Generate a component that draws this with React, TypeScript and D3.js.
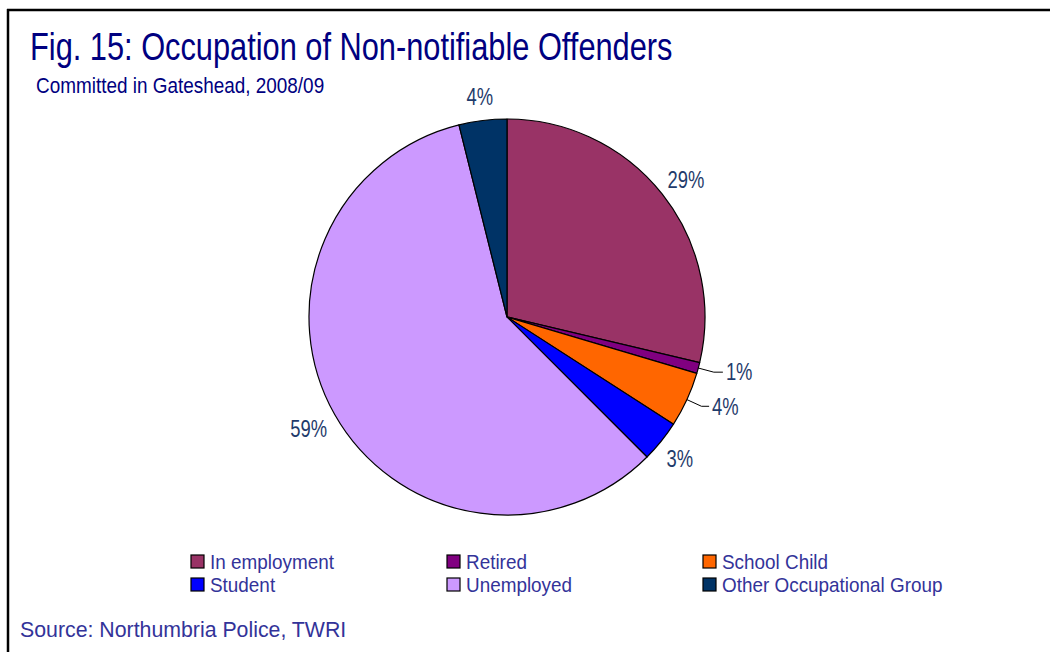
import React from "react";
import * as d3 from "d3";

const categories = ["In employment", "Retired", "School Child", "Student", "Unemployed", "Other Occupational Group"];
const values = [28.7, 0.9, 4.5, 3.4, 58.6, 3.9];
const labels = ["29%", "1%", "4%", "3%", "59%", "4%"];
const colors = ["#993366", "#800080", "#FF6600", "#0000FF", "#CC99FF", "#003366"];
const callout = [false, true, true, false, false, false];

const FONT = "'Liberation Sans', Arial, sans-serif";

function T(props: { x: number; y: number; sx: number; size: number; fill: string; anchor?: string; dy?: string; children: React.ReactNode }) {
  const { x, y, sx, size, fill, anchor, dy, children } = props;
  return (
    <text transform={`translate(${x},${y}) scale(${sx},1)`} fontSize={size} fill={fill} textAnchor={anchor || "start"} dy={dy}>
      {children}
    </text>
  );
}

export default function App() {
  const W = 1050, H = 652;
  const cx = 507, cy = 317, r = 198;
  const pie = d3.pie<number>().sort(null).value((d) => d)(values);
  const arc = d3.arc<d3.PieArcDatum<number>>().innerRadius(0).outerRadius(r);
  const pt = (a: number, rad: number) => [Math.sin(a) * rad, -Math.cos(a) * rad];
  const labelColor = "#1F3B6B";
  const legendColor = "#333399";
  const legendCols = [191, 447, 703];
  const legendRows = [555, 578];

  return (
    <svg width={W} height={H} style={{ position: "absolute", left: 0, top: 0, background: "#fff" }} fontFamily={FONT}>
      <rect x={0} y={0} width={W} height={H} fill="#fff" />
      <line x1={7} y1={10} x2={W} y2={10} stroke="#000" strokeWidth={2.5} />
      <line x1={8} y1={9} x2={8} y2={H} stroke="#000" strokeWidth={2.5} />
      <T x={30} y={60} sx={0.81} size={38} fill="#000080">Fig. 15: Occupation of Non-notifiable Offenders</T>
      <T x={36} y={92.5} sx={0.88} size={21.5} fill="#000080">Committed in Gateshead, 2008/09</T>
      <g transform={`translate(${cx},${cy})`}>
        {pie.map((p, i) => (
          <path key={i} d={arc(p) || ""} fill={colors[i]} stroke="#000" strokeWidth={1.2} strokeLinejoin="round" />
        ))}
        {pie.map((p, i) => {
          const mid = (p.startAngle + p.endAngle) / 2;
          if (callout[i]) {
            const [x0, y0] = pt(mid, r);
            const [x1, y1] = pt(mid, r + 16);
            const [lx] = pt(mid, 240);
            const tx = lx - 13;
            return (
              <g key={i}>
                <polyline points={`${x0},${y0} ${x1},${y1} ${tx - 3},${y1}`} fill="none" stroke="#000" strokeWidth={1} />
                <T x={tx} y={y1} dy="0.36em" sx={0.8} size={23} fill={labelColor}>{labels[i]}</T>
              </g>
            );
          }
          const [ex, ey] = pt(mid, r + 12);
          const hw = labels[i].length * 6;
          const hh = Math.cos(mid) < 0 ? 16 : 12;
          const lx = ex + Math.sin(mid) * hw;
          const ly = ey - Math.cos(mid) * hh;
          return (
            <T key={i} x={lx} y={ly} dy="0.36em" anchor="middle" sx={0.8} size={23} fill={labelColor}>{labels[i]}</T>
          );
        })}
      </g>
      {categories.map((c, i) => {
        const col = i % 3, row = Math.floor(i / 3);
        const x = legendCols[col], y = legendRows[row];
        return (
          <g key={c}>
            <rect x={x} y={y} width={13} height={13} fill={colors[i]} stroke="#000" strokeWidth={1.2} />
            <T x={x + 19} y={y + 14} sx={0.9} size={21} fill={legendColor}>{c}</T>
          </g>
        );
      })}
      <T x={20} y={637} sx={1} size={21.3} fill={legendColor}>Source: Northumbria Police, TWRI</T>
    </svg>
  );
}
